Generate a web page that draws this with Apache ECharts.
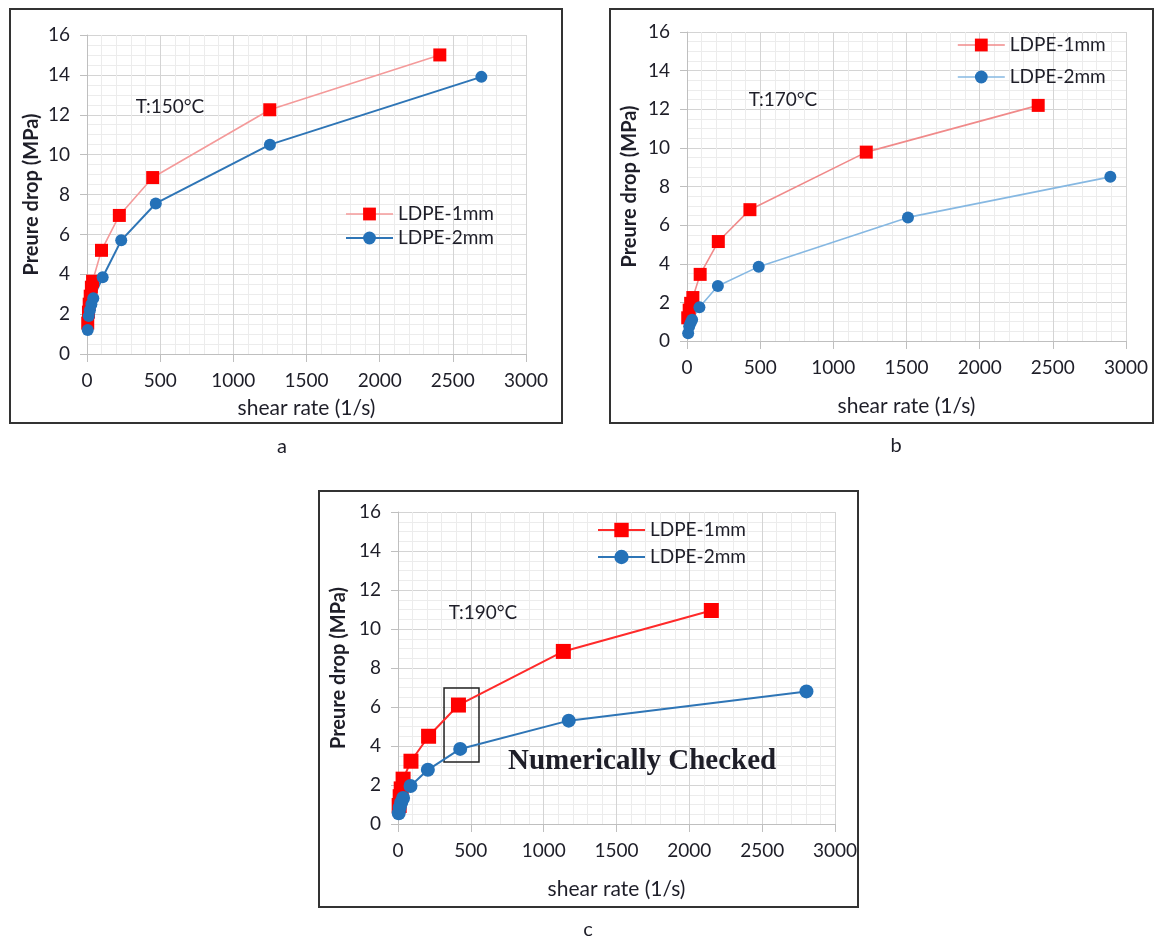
<!DOCTYPE html>
<html>
<head>
<meta charset="utf-8">
<script src="https://cdn.jsdelivr.net/npm/echarts@6/dist/echarts.min.js"></script>
<style>
html,body{margin:0;padding:0;background:#fff;}
#chart{width:1156px;height:938px;}
</style>
</head>
<body>
<div id="chart"></div>
<script>
// ---- data (shear rate 1/s, pressure drop MPa) ----
const shearA1 = [5, 10, 15, 22, 30, 38, 99, 221, 449, 1249, 2411];
const dropA1  = [1.55, 2.1, 2.5, 2.9, 3.35, 3.65, 5.2, 6.95, 8.85, 12.25, 15.0];
const shearA2 = [5, 12, 20, 30, 43, 107, 234, 470, 1250, 2695];
const dropA2  = [1.2, 1.9, 2.2, 2.5, 2.8, 3.85, 5.7, 7.55, 10.5, 13.9];

const shearB1 = [5, 15, 25, 40, 90, 214, 430, 1225, 2400];
const dropB1  = [1.2, 1.6, 1.95, 2.25, 3.45, 5.15, 6.8, 9.78, 12.2];
const shearB2 = [8, 15, 25, 35, 85, 211, 490, 1510, 2893];
const dropB2  = [0.4, 0.75, 0.95, 1.1, 1.75, 2.85, 3.85, 6.4, 8.5];

const shearC1 = [8, 15, 22, 35, 89, 210, 415, 1135, 2151];
const dropC1  = [0.95, 1.4, 1.8, 2.3, 3.22, 4.5, 6.1, 8.85, 10.95];
const shearC2 = [5, 12, 22, 35, 86, 205, 427, 1172, 2804];
const dropC2  = [0.55, 0.85, 1.1, 1.33, 1.95, 2.78, 3.85, 5.3, 6.8];

const seriesNames = ['LDPE-1mm', 'LDPE-2mm'];
const tempLabels = ['T:150°C', 'T:170°C', 'T:190°C'];
const panelLabels = ['a', 'b', 'c'];
const xTitle = 'shear rate (1/s)';
const yTitle = 'Preure drop (MPa)';
const checkedText = 'Numerically Checked';
// highlighted region in panel c: [x0, y0] -> [x1, y1] in data units
const checkBoxC = [[316, 6.97], [556, 3.18]];

const zip = (xs, ys) => xs.map((x, i) => [x, ys[i]]);

const FONT = 'Lato, "Open Sans", sans-serif';
const TXT = '#1e1e28';

function xAxis(g, gap) {
  return {
    type: 'value', gridIndex: g, min: 0, max: 3000, interval: 500,
    name: xTitle, nameLocation: 'middle', nameGap: gap,
    nameTextStyle: {fontSize: 21, fontFamily: FONT, color: TXT},
    axisLine: {show: true, onZero: false, lineStyle: {color: '#bfbfbf', width: 1}},
    axisTick: {show: true, length: 8, lineStyle: {color: '#bfbfbf'}},
    axisLabel: {fontSize: 19, fontFamily: FONT, color: TXT, margin: 17, formatter: v => String(v)},
    splitLine: {show: true, lineStyle: {color: '#d4d4d4', width: 1}},
    minorTick: {show: false, splitNumber: 5},
    minorSplitLine: {show: true, lineStyle: {color: '#ececec', width: 1}}
  };
}
function yAxis(g, gap) {
  return {
    type: 'value', gridIndex: g, min: 0, max: 16, interval: 2,
    name: yTitle, nameLocation: 'middle', nameGap: gap, nameRotate: 90,
    nameTextStyle: {fontSize: 20, fontWeight: 'bold', fontFamily: FONT, color: TXT},
    axisLine: {show: true, onZero: false, lineStyle: {color: '#bfbfbf', width: 1}},
    axisTick: {show: true, length: 7, lineStyle: {color: '#bfbfbf'}},
    axisLabel: {fontSize: 19, fontFamily: FONT, color: TXT, margin: 17, formatter: v => String(v)},
    splitLine: {show: true, lineStyle: {color: '#d4d4d4', width: 1}},
    minorTick: {show: false, splitNumber: 4},
    minorSplitLine: {show: true, lineStyle: {color: '#ececec', width: 1}}
  };
}

const RED = '#ff0000', BLUE = '#2471b8';
const styles = [
  {r: {line: '#f49a9a', w: 1.6}, b: {line: '#2e75b6', w: 2}, rs: 13, bs: 12},
  {r: {line: '#f08a8a', w: 1.6}, b: {line: '#86b8e2', w: 1.6}, rs: 13, bs: 12},
  {r: {line: '#ff2a2a', w: 2}, b: {line: '#2e75b6', w: 2}, rs: 15, bs: 14}
];
const dataSets = [
  [zip(shearA1, dropA1), zip(shearA2, dropA2)],
  [zip(shearB1, dropB1), zip(shearB2, dropB2)],
  [zip(shearC1, dropC1), zip(shearC2, dropC2)]
];

const series = [];
dataSets.forEach((ds, g) => {
  const st = styles[g];
  const s1 = {
    name: seriesNames[0], type: 'line', xAxisIndex: g, yAxisIndex: g,
    data: ds[0], symbol: 'rect', symbolSize: st.rs, showSymbol: true,
    lineStyle: {color: st.r.line, width: st.r.w},
    itemStyle: {color: RED}, z: 3, animation: false
  };
  const s2 = {
    name: seriesNames[1], type: 'line', xAxisIndex: g, yAxisIndex: g,
    data: ds[1], symbol: 'circle', symbolSize: st.bs, showSymbol: true,
    lineStyle: {color: st.b.line, width: st.b.w},
    itemStyle: {color: BLUE}, z: 3, animation: false
  };
  if (g === 2) {
    s1.markArea = {
      silent: true,
      itemStyle: {color: 'rgba(0,0,0,0)', borderColor: '#222', borderWidth: 1.5},
      data: [[{coord: checkBoxC[0]}, {coord: checkBoxC[1]}]]
    };
  }
  series.push(s1, s2);
});

function legend(g, left, top, gap) {
  const st = styles[g];
  const sz = g === 2 ? 18 : 16;
  return {
    orient: 'vertical', left: left, top: top, itemGap: gap,
    itemWidth: 47, itemHeight: sz, selectedMode: false,
    textStyle: {fontSize: 19, fontFamily: FONT, color: TXT, lineHeight: 20},
    data: [
      {name: seriesNames[0], itemStyle: {color: RED}, lineStyle: {color: st.r.line, width: st.r.w}},
      {name: seriesNames[1], itemStyle: {color: BLUE}, lineStyle: {color: st.b.line, width: st.b.w}}
    ]
  };
}

const boxes = [[10, 9, 552, 414], [610, 9, 543, 414], [319, 491, 539, 416]];
const graphic = [];
boxes.forEach(b => graphic.push({
  type: 'rect', shape: {x: b[0], y: b[1], width: b[2], height: b[3]}, z: 100,
  style: {fill: 'none', stroke: '#333', lineWidth: 2}, silent: true
}));
const plainText = (txt, x, y, font, align) => ({
  type: 'text', x: x, y: y, silent: true, z: 100,
  style: {text: txt, font: font, fill: TXT,
          textAlign: align, textVerticalAlign: 'middle'}
});
const tPos = [[170, 107], [783, 100], [483, 613]];
tPos.forEach((p, i) => graphic.push(plainText(tempLabels[i], p[0], p[1], '19px ' + FONT, 'center')));
const subPos = [[282, 447], [896, 446], [588, 930]];
subPos.forEach((p, i) => graphic.push(plainText(panelLabels[i], p[0], p[1], '20px ' + FONT, 'center')));
graphic.push(plainText(checkedText, 508, 762, 'bold 29px "Liberation Serif", serif', 'left'));

const chart = echarts.init(document.getElementById('chart'), null, {renderer: 'canvas'});
chart.setOption({
  backgroundColor: '#fff',
  animation: false,
  grid: [
    {left: 87, top: 35, width: 439, height: 319},
    {left: 687, top: 32, width: 439, height: 309},
    {left: 398, top: 512, width: 437, height: 312}
  ],
  xAxis: [xAxis(0, 44), xAxis(1, 55), xAxis(2, 55)],
  yAxis: [yAxis(0, 45), yAxis(1, 47), yAxis(2, 49)],
  legend: [legend(0, 340, 199, 4), legend(1, 952, 30, 12), legend(2, 592, 515, 7)],
  series: series,
  graphic: graphic
});
</script>
</body>
</html>
